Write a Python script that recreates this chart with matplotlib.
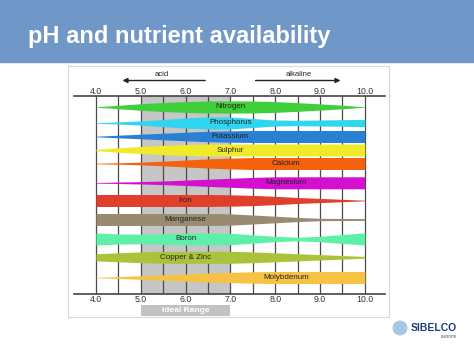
import numpy as np
import matplotlib.pyplot as plt
from matplotlib.patches import Rectangle, Ellipse

plt.rcParams['font.family'] = ['Liberation Sans', 'DejaVu Sans']

# pH scale
ph = [4.0, 4.5, 5.0, 5.5, 6.0, 6.5, 7.0, 7.5, 8.0, 8.5, 9.0, 9.5, 10.0]
ph_ticks = [4.0, 5.0, 6.0, 7.0, 8.0, 9.0, 10.0]
ph_labels = ['4.0', '5.0', '6.0', '7.0', '8.0', '9.0', '10.0']

nutrients = ['Nitrogen', 'Phosphorus', 'Potassium', 'Sulphur', 'Calcium',
             'Magnesium', 'Iron', 'Manganese', 'Boron', 'Copper & Zinc',
             'Molybdenum']

# relative availability (band thickness) at each pH point
nitrogen   = [0.04, 0.28, 0.55, 0.75, 0.90, 1.00, 1.00, 1.00, 0.90, 0.72, 0.52, 0.30, 0.03]
phosphorus = [0.05, 0.18, 0.35, 0.60, 0.85, 1.00, 1.00, 0.75, 0.50, 0.45, 0.50, 0.55, 0.60]
potassium  = [0.05, 0.22, 0.38, 0.55, 0.72, 0.87, 0.95, 1.00, 1.00, 1.00, 1.00, 1.00, 1.00]
sulphur    = [0.12, 0.38, 0.58, 0.78, 0.92, 1.00, 1.00, 1.00, 1.00, 1.00, 1.00, 1.00, 1.00]
calcium    = [0.05, 0.12, 0.22, 0.38, 0.58, 0.77, 0.90, 1.00, 1.00, 1.00, 1.00, 1.00, 1.00]
magnesium  = [0.05, 0.12, 0.20, 0.30, 0.45, 0.60, 0.75, 0.90, 1.00, 1.00, 1.00, 1.00, 1.00]
iron       = [1.00, 1.00, 1.00, 1.00, 1.00, 1.00, 0.95, 0.85, 0.70, 0.50, 0.35, 0.20, 0.05]
manganese  = [1.00, 1.00, 1.00, 1.00, 1.00, 1.00, 0.95, 0.75, 0.55, 0.35, 0.20, 0.17, 0.15]
boron      = [1.00, 0.85, 0.80, 0.90, 1.00, 1.00, 0.95, 0.70, 0.45, 0.30, 0.45, 0.75, 1.00]
copper     = [0.60, 0.75, 0.90, 1.00, 1.00, 1.00, 1.00, 0.90, 0.75, 0.60, 0.45, 0.30, 0.15]
molybdenum = [0.05, 0.15, 0.30, 0.45, 0.60, 0.75, 0.85, 0.95, 1.00, 1.00, 1.00, 1.00, 1.00]
availability = [nitrogen, phosphorus, potassium, sulphur, calcium, magnesium,
                iron, manganese, boron, copper, molybdenum]

# layout / style
row_y = [11, 27, 40.5, 54, 67.5, 86.8, 104.5, 123.5, 143, 161.3, 181.5]
label_x = [7.0, 7.0, 7.0, 7.0, 8.25, 8.25, 6.0, 6.0, 6.0, 6.0, 8.25]
colors = ['#3fcf3a', '#2ed6ef', '#2a80d2', '#f0ea2a', '#f5620e', '#d40fcf',
          '#e0402b', '#998b72', '#5ef0a8', '#a9c43b', '#f6c244']
half_h = 6.0
W, H = 474, 355

fig = plt.figure(figsize=(4.74, 3.55), dpi=100)

# title banner
fig.patches.append(Rectangle((0, 1 - 62 / H), 1, 62 / H, transform=fig.transFigure,
                             color='#6f97c8', zorder=0))
fig.text(28 / W, 1 - 36 / H, 'pH and nutrient availability', color='white',
         fontsize=17, fontweight='bold', va='center')

# chart frame
fig.patches.append(Rectangle((68 / W, 1 - 317 / H), 321 / W, 251 / H, fill=False,
                             ec='#d8d8d8', lw=0.8, transform=fig.transFigure))

ax = fig.add_axes([74 / W, 61.5 / H, 311 / W, 197.5 / H])
ax.set_xlim(3.51, 10.45)
ax.set_ylim(197.5, 0)
ax.axis('off')

ax.axvspan(5.0, 7.0, color='#c6c6c6', lw=0, zorder=0)
ax.vlines(ph, 0, 197.5, color='#4a4a4a', lw=0.9, zorder=1)
ax.axhline(0, color='#444444', lw=1.2, clip_on=False, zorder=2)
ax.axhline(197.5, color='#444444', lw=1.2, clip_on=False, zorder=2)

for x, lab in zip(ph_ticks, ph_labels):
    ax.text(x, -5, lab, ha='center', va='center', fontsize=6.3, color='#333333')
    ax.text(x, 203.5, lab, ha='center', va='center', fontsize=6.3, color='#333333')

# acid / alkaline arrows
ax.annotate('', xy=(4.53, -15.5), xytext=(6.5, -15.5), annotation_clip=False,
            arrowprops=dict(arrowstyle='-|>', color='#222222', lw=1, mutation_scale=7))
ax.annotate('', xy=(9.52, -15.5), xytext=(7.5, -15.5), annotation_clip=False,
            arrowprops=dict(arrowstyle='-|>', color='#222222', lw=1, mutation_scale=7))
ax.text(5.47, -21, 'acid', ha='center', va='center', fontsize=5.5, color='#222222')
ax.text(8.53, -21, 'alkaline', ha='center', va='center', fontsize=5.5, color='#222222')

# nutrient bands
for name, w, yc, lx, c in zip(nutrients, availability, row_y, label_x, colors):
    w = np.array(w)
    ax.fill_between(ph, yc - half_h * w, yc + half_h * w, color=c, lw=0, zorder=3)
    ax.text(lx, yc, name, ha='center', va='center', fontsize=5.8, color='#222222', zorder=4)

# ideal range
ax.add_patch(Rectangle((5.0, 209), 2.0, 10.7, color='#c2c2c2', lw=0, clip_on=False))
ax.text(6.0, 214.5, 'Ideal Range', ha='center', va='center', fontsize=6,
        fontweight='bold', color='white')

# logo
fig.patches.append(Ellipse((400 / W, 1 - 328 / H), 15 / W, 15 / H, transform=fig.transFigure,
                           color='#a9c8e6', lw=0))
fig.text(434 / W, 1 - 328 / H, 'SIBELCO', ha='center', va='center', fontsize=7.5,
         fontweight='bold', color='#1f3c78')
fig.text(449 / W, 1 - 337 / H, 'EUROPE', ha='center', va='center', fontsize=2.8,
         color='#1f3c78')

fig.savefig('out.png', dpi=100)
